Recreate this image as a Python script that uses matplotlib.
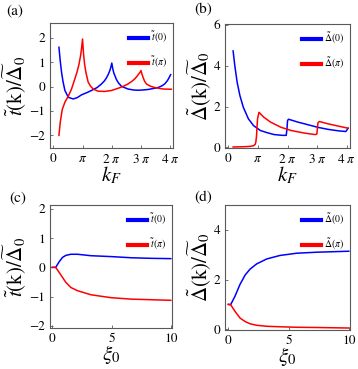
import numpy as np
import matplotlib
matplotlib.use("Agg")
import matplotlib.pyplot as plt

plt.rcParams['font.family'] = ['STIXGeneral', 'DejaVu Serif']
plt.rcParams['mathtext.fontset'] = 'stix'

PI = np.pi

# ---------------- data ----------------
# panel (a): t(k)/Delta0 vs k_F
a_k_blue = [0.61, 0.75, 0.89, 1.05, 1.25, 1.61, 2.14, 2.6, 3.03, 3.6, 4.1, 4.7, 5.18, 5.5, 5.71, 5.9, 6.07, 6.18, 6.28,
            6.39, 6.5, 6.78, 7.0, 7.32, 8.03, 8.6, 9.1, 9.6, 10.17, 10.7, 11.25, 11.7, 11.96, 12.2, 12.32, 12.5, 12.6]
a_v_blue = [1.62, 1.05, 0.59, 0.2, -0.16, -0.44, -0.51, -0.45, -0.34, -0.25, -0.16, -0.04, 0.11, 0.24, 0.36, 0.5, 0.66, 0.8, 0.97,
            0.73, 0.56, 0.29, 0.15, 0.01, -0.1, -0.14, -0.15, -0.14, -0.12, -0.08, -0.04, 0.04, 0.11, 0.22, 0.29, 0.42, 0.49]
a_k_red = [0.61, 0.75, 0.96, 1.25, 1.61, 1.96, 2.32, 2.55, 2.75, 2.93, 3.03, 3.14, 3.25, 3.36, 3.5, 3.75, 4.0, 4.28, 4.82,
           5.53, 6.25, 6.96, 7.5, 8.03, 8.45, 8.75, 9.0, 9.17, 9.3, 9.42, 9.53, 9.64, 9.8, 10.0, 10.4, 10.9, 11.78, 12.67]
a_v_red = [-2.01, -1.47, -0.95, -0.64, -0.40, -0.1, 0.32, 0.6, 0.9, 1.27, 1.55, 1.96, 1.34, 0.93, 0.59, 0.18, 0.02, -0.1, -0.19,
           -0.2, -0.16, -0.07, 0.01, 0.11, 0.22, 0.32, 0.43, 0.52, 0.58, 0.66, 0.5, 0.38, 0.22, 0.11, 0.02, -0.04, -0.1, -0.11]

# panel (b): Delta(k)/Delta0 vs k_F
b_k_blue = [0.51, 0.69, 0.94, 1.23, 1.59, 2.13, 2.67, 3.39, 4.12, 4.84, 5.74, 6.14, 6.22, 6.28, 6.39, 7.37, 8.45, 9.53,
            10.62, 11.7, 12.42, 12.5, 12.6, 12.7]
b_v_blue = [4.73, 4.0, 3.19, 2.54, 1.97, 1.40, 1.07, 0.83, 0.72, 0.63, 0.59, 0.59, 0.9, 1.32, 1.38, 1.24, 1.11, 0.98,
            0.88, 0.81, 0.78, 0.8, 0.88, 0.94]
b_k_red = [0.51, 1.5, 2.3, 2.67, 2.85, 2.92, 3.0, 3.03, 3.1, 3.25, 3.76, 4.48, 5.56, 6.64, 8.09, 9.17, 9.35, 9.39, 9.45,
           9.5, 9.64, 10.62, 11.7, 12.7]
b_v_red = [0.02, 0.03, 0.05, 0.08, 0.15, 0.26, 0.6, 0.91, 1.4, 1.72, 1.48, 1.24, 0.99, 0.83, 0.70, 0.63, 0.64, 0.67, 0.95,
           1.2, 1.27, 1.15, 1.04, 0.94]

# panel (c): t(k)/Delta0 vs xi0
c_x = [0.0, 0.28, 0.57, 0.85, 1.13, 1.56, 2.12, 3.26, 4.96, 6.66, 8.36, 10.0]
c_blue = [0.0, 0.0, 0.19, 0.34, 0.41, 0.45, 0.45, 0.40, 0.37, 0.33, 0.31, 0.30]
c_red = [0.0, 0.0, -0.17, -0.34, -0.51, -0.69, -0.80, -0.94, -1.04, -1.09, -1.11, -1.13]

# panel (d): Delta(k)/Delta0 vs xi0
d_x = [0.0, 0.19, 0.55, 0.97, 1.39, 1.8, 2.35, 3.19, 4.29, 5.68, 7.34, 10.0]
d_blue = [1.0, 0.99, 1.33, 1.81, 2.18, 2.42, 2.63, 2.83, 2.97, 3.06, 3.10, 3.14]
d_red = [1.0, 0.99, 0.72, 0.45, 0.31, 0.22, 0.16, 0.12, 0.10, 0.08, 0.07, 0.05]

k_ticks = [0, PI, 2 * PI, 3 * PI, 4 * PI]
k_ticklabels = ['0', r'$\pi$', r'$2\ \pi$', r'$3\ \pi$', r'$4\ \pi$']

BLUE = '#0000ff'
RED = '#ff0000'

W, H = 358, 369
fig = plt.figure(figsize=(W / 100, H / 100), dpi=100)


def mkax(l, r, t, b):
    return fig.add_axes([l / W, 1 - b / H, (r - l) / W, (b - t) / H])


def style(ax):
    for s in ax.spines.values():
        s.set_color('0.35')
        s.set_linewidth(0.8)
    ax.tick_params(direction='in', length=2.5, width=0.6, color='0.35', labelsize=9.5,
                   top=False, right=False)
    ax.tick_params(axis='x', pad=3.5)
    ax.tick_params(axis='y', pad=3.5)


def add_legend(ax, handles, labels):
    leg = ax.legend(handles, labels, loc='upper right', frameon=False,
                    fontsize=7, handlelength=1.9, handletextpad=0.3, labelspacing=1.0, borderaxespad=0.25)
    for h in leg.legend_handles:
        h.set_linewidth(3)


ylab_t = r'$\tilde{t}(\mathrm{k})/\widetilde{\Delta}_0$'
ylab_d = r'$\tilde{\Delta}(\mathrm{k})/\widetilde{\Delta}_0$'
YLFS = 15
XLFS = 15

# (a)
ax = mkax(50, 173, 23, 148)
l1, = ax.plot(a_k_blue, a_v_blue, color=BLUE, lw=1.1)
l2, = ax.plot(a_k_red, a_v_red, color=RED, lw=1.1)
ax.set_xlim(-0.35, 12.85)
ax.set_ylim(-2.53, 2.62)
ax.set_xticks(k_ticks)
ax.set_xticklabels(k_ticklabels)
ax.set_yticks([-2, -1, 0, 1, 2])
ax.set_yticklabels(['−2', '−1', '0', '1', '2'])
style(ax)
add_legend(ax, [l1, l2], [r'$\tilde{t}(0)$', r'$\tilde{t}(\pi)$'])
ax.set_xlabel(r'$k_F$', fontsize=XLFS, labelpad=-1)
ax.set_ylabel(ylab_t, fontsize=YLFS, labelpad=0)
fig.text(6 / W, 1 - 11 / H, '(a)', fontsize=11, va='center', ha='left')

# (b)
ax = mkax(225, 350, 24, 148)
l1, = ax.plot(b_k_blue, b_v_blue, color=BLUE, lw=1.1)
l2, = ax.plot(b_k_red, b_v_red, color=RED, lw=1.1)
ax.set_xlim(-0.35, 12.9)
ax.set_ylim(-0.03, 6.05)
ax.set_xticks(k_ticks)
ax.set_xticklabels(k_ticklabels)
ax.set_yticks([0, 2, 4, 6])
style(ax)
add_legend(ax, [l1, l2], [r'$\tilde{\Delta}(0)$', r'$\tilde{\Delta}(\pi)$'])
ax.set_xlabel(r'$k_F$', fontsize=XLFS, labelpad=-1)
ax.set_ylabel(ylab_d, fontsize=YLFS, labelpad=0)
fig.text(194 / W, 1 - 10 / H, '(b)', fontsize=11, va='center', ha='left')

# (c)
ax = mkax(50, 172, 205, 328)
l1, = ax.plot(c_x, c_blue, color=BLUE, lw=1.1)
l2, = ax.plot(c_x, c_red, color=RED, lw=1.1)
ax.set_xlim(-0.2, 10.1)
ax.set_ylim(-2.08, 2.14)
ax.set_xticks([0, 5, 10])
ax.set_yticks([-2, -1, 0, 1, 2])
ax.set_yticklabels(['−2', '−1', '0', '1', '2'])
style(ax)
add_legend(ax, [l1, l2], [r'$\tilde{t}(0)$', r'$\tilde{t}(\pi)$'])
ax.set_xlabel(r'$\xi_0$', fontsize=XLFS, labelpad=-1)
ax.set_ylabel(ylab_t, fontsize=YLFS, labelpad=0)
fig.text(9 / W, 1 - 198 / H, '(c)', fontsize=11, va='center', ha='left')

# (d)
ax = mkax(225, 350, 205, 330)
l1, = ax.plot(d_x, d_blue, color=BLUE, lw=1.1)
l2, = ax.plot(d_x, d_red, color=RED, lw=1.1)
ax.set_xlim(-0.28, 10.1)
ax.set_ylim(-0.03, 5.0)
ax.set_xticks([0, 5, 10])
ax.set_yticks([0, 2, 4])
style(ax)
add_legend(ax, [l1, l2], [r'$\tilde{\Delta}(0)$', r'$\tilde{\Delta}(\pi)$'])
ax.set_xlabel(r'$\xi_0$', fontsize=XLFS, labelpad=-1)
ax.set_ylabel(ylab_d, fontsize=YLFS, labelpad=0)
fig.text(194 / W, 1 - 198 / H, '(d)', fontsize=11, va='center', ha='left')

fig.savefig('out.png', dpi=100)
